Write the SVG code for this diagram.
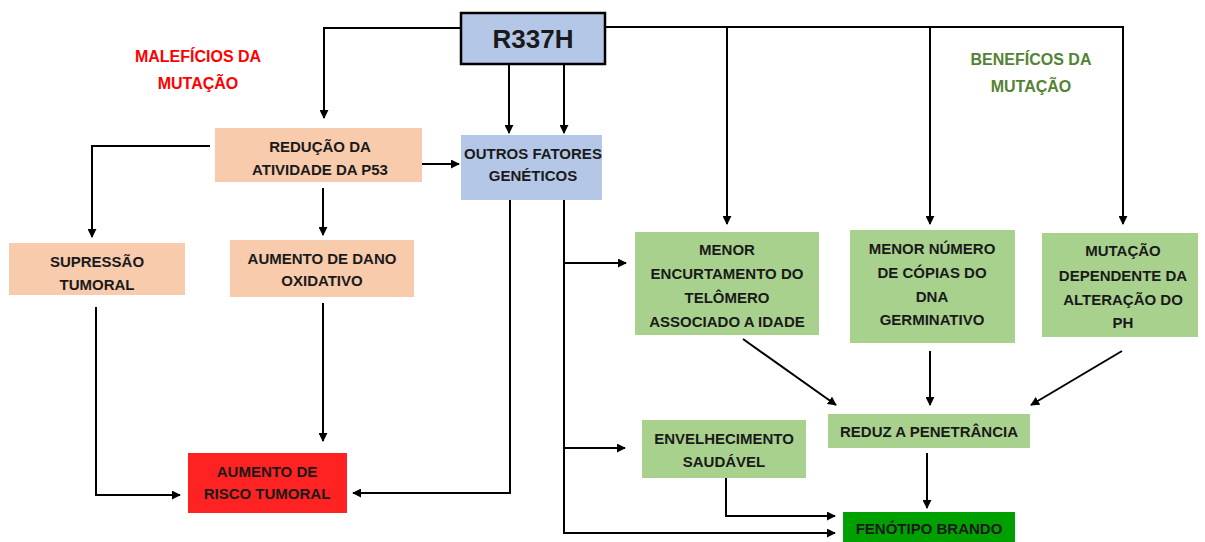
<svg xmlns="http://www.w3.org/2000/svg" width="1205" height="542" viewBox="0 0 1205 542">
<style>
.t{font-family:"Liberation Sans",Arial,sans-serif;font-weight:bold;font-size:15px;fill:#1a1a1a;text-anchor:middle}
.h{font-family:"Liberation Sans",Arial,sans-serif;font-weight:bold;font-size:16px;text-anchor:middle}
.peach{fill:#F8CBAD}
.blue{fill:#B4C7E7}
.lg{fill:#A9D18E}
.c{fill:none;stroke:#000;stroke-width:2}
</style>
<defs>
<marker id="a" viewBox="0 0 10 10" markerWidth="9" markerHeight="9" refX="9" refY="5" orient="auto" markerUnits="userSpaceOnUse">
<path d="M0,0 L10,5 L0,10 z" fill="#000"/>
</marker>
</defs>
<rect width="1205" height="542" fill="#fff"/>
<text class="h" x="198" y="62" fill="#FF0000">MALEFÍCIOS DA</text>
<text class="h" x="198" y="89" fill="#FF0000">MUTAÇÃO</text>
<text class="h" x="1031" y="65" fill="#548235">BENEFÍCOS DA</text>
<text class="h" x="1031" y="92" fill="#548235">MUTAÇÃO</text>
<g id="connectors" class="c" marker-end="url(#a)">
<path d="M460,28 H324 V118"/>
<path d="M509,64 V133"/>
<path d="M564,64 V133"/>
<path d="M605,27 H1123 V224"/>
<path d="M727,27 V224"/>
<path d="M930,27 V224"/>
<path d="M422,164 H459"/>
<path d="M210,146 H92 V237"/>
<path d="M323,188 V235"/>
<path d="M323,303 V441"/>
<path d="M96,307 V495 H180"/>
<path d="M510,200 V493 H353"/>
<path d="M564,200 V533 H835"/>
<path d="M564,263 H626"/>
<path d="M564,448 H625"/>
<path d="M743,339 L836,405"/>
<path d="M930,351 V405"/>
<path d="M1122,351 L1031,405"/>
<path d="M927,453 V508"/>
<path d="M726,478 V516 H835"/>
</g>
<g id="r337h">
<rect x="461" y="13" width="144" height="51" class="blue" stroke="#000" stroke-width="2.5"/>
<text class="t" x="533" y="48" style="font-size:26px">R337H</text>
</g>
<g id="reducao">
<rect x="215" y="128" width="207" height="54" class="peach"/>
<text class="t" x="320" y="152">REDUÇÃO DA</text>
<text class="t" x="320" y="175">ATIVIDADE DA P53</text>
</g>
<g id="outros">
<rect x="461" y="135" width="141" height="65" class="blue"/>
<text class="t" x="533" y="159">OUTROS FATORES</text>
<text class="t" x="533" y="181">GENÉTICOS</text>
</g>
<g id="supressao">
<rect x="9" y="243" width="176" height="52" class="peach"/>
<text class="t" x="97" y="267">SUPRESSÃO</text>
<text class="t" x="97" y="290">TUMORAL</text>
</g>
<g id="dano">
<rect x="230" y="240" width="184" height="57" class="peach"/>
<text class="t" x="322" y="264">AUMENTO DE DANO</text>
<text class="t" x="322" y="286">OXIDATIVO</text>
</g>
<g id="risco">
<rect x="188" y="453" width="159" height="60" fill="#FF2222"/>
<text class="t" x="267" y="477">AUMENTO DE</text>
<text class="t" x="267" y="499">RISCO TUMORAL</text>
</g>
<g id="telomero">
<rect x="635" y="232" width="184" height="103" class="lg"/>
<text class="t" x="727" y="255">MENOR</text>
<text class="t" x="727" y="279">ENCURTAMENTO DO</text>
<text class="t" x="727" y="303">TELÔMERO</text>
<text class="t" x="727" y="327">ASSOCIADO A IDADE</text>
</g>
<g id="copias">
<rect x="850" y="230" width="165" height="113" class="lg"/>
<text class="t" x="932" y="254">MENOR NÚMERO</text>
<text class="t" x="932" y="278">DE CÓPIAS DO</text>
<text class="t" x="932" y="302">DNA</text>
<text class="t" x="932" y="325">GERMINATIVO</text>
</g>
<g id="ph">
<rect x="1042" y="233" width="156" height="104" class="lg"/>
<text class="t" x="1123" y="256">MUTAÇÃO</text>
<text class="t" x="1123" y="281">DEPENDENTE DA</text>
<text class="t" x="1123" y="305">ALTERAÇÃO DO</text>
<text class="t" x="1123" y="328">PH</text>
</g>
<g id="reduz">
<rect x="828" y="414" width="202" height="34" class="lg"/>
<text class="t" x="929" y="437">REDUZ A PENETRÂNCIA</text>
</g>
<g id="envelhecimento">
<rect x="642" y="420" width="164" height="58" class="lg"/>
<text class="t" x="724" y="444">ENVELHECIMENTO</text>
<text class="t" x="724" y="467">SAUDÁVEL</text>
</g>
<g id="fenotipo">
<rect x="843" y="512" width="172" height="32" fill="#00A000"/>
<text class="t" x="929" y="534">FENÓTIPO BRANDO</text>
</g>
</svg>
